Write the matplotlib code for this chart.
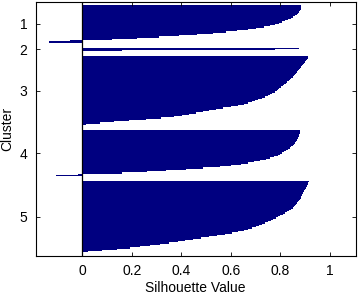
import numpy as np
import matplotlib.pyplot as plt

plt.rcParams['font.family'] = ['Liberation Sans', 'DejaVu Sans']

# silhouette values per cluster, sorted as in the figure (top to bottom)
clusters = ['1', '2', '3', '4', '5']
sil_1 = [0.885, 0.884, 0.883, 0.882, 0.880, 0.876, 0.872, 0.866, 0.860, 0.852,
         0.843, 0.832, 0.820, 0.808, 0.795, 0.778, 0.757, 0.733, 0.703, 0.668,
         0.625, 0.580, 0.530, 0.465, 0.390, 0.310, 0.220, 0.120, -0.050, -0.136]
sil_2 = [0.876, 0.780, 0.160]
sil_3 = [0.913, 0.911, 0.908, 0.905, 0.902, 0.898, 0.894, 0.890, 0.885, 0.880,
         0.875, 0.870, 0.866, 0.862, 0.859, 0.855, 0.850, 0.845, 0.840, 0.835,
         0.829, 0.822, 0.816, 0.810, 0.804, 0.797, 0.791, 0.785, 0.777, 0.768,
         0.759, 0.750, 0.738, 0.725, 0.712, 0.700, 0.685, 0.669, 0.653, 0.628,
         0.600, 0.570, 0.540, 0.513, 0.486, 0.459, 0.432, 0.405, 0.369, 0.320,
         0.259, 0.190, 0.128, 0.070, 0.015]
sil_4 = [0.880, 0.879, 0.878, 0.877, 0.876, 0.874, 0.871, 0.868, 0.866, 0.863,
         0.860, 0.856, 0.851, 0.845, 0.839, 0.832, 0.823, 0.815, 0.806, 0.798,
         0.790, 0.775, 0.759, 0.743, 0.720, 0.695, 0.670, 0.640, 0.600, 0.555,
         0.490, 0.420, 0.340, 0.260, 0.160, -0.016, -0.104]
sil_5 = [0.916, 0.914, 0.912, 0.910, 0.907, 0.904, 0.901, 0.897, 0.895, 0.892,
         0.890, 0.887, 0.885, 0.882, 0.879, 0.875, 0.871, 0.867, 0.863, 0.859,
         0.855, 0.850, 0.844, 0.836, 0.827, 0.818, 0.810, 0.801, 0.793, 0.783,
         0.772, 0.761, 0.750, 0.739, 0.728, 0.716, 0.703, 0.687, 0.670, 0.652,
         0.631, 0.605, 0.578, 0.545, 0.512, 0.480, 0.447, 0.415, 0.385, 0.350,
         0.313, 0.273, 0.233, 0.193, 0.140, 0.080, 0.025]
sil_values = [sil_1, sil_2, sil_3, sil_4, sil_5]

x_ticks = [0, 0.2, 0.4, 0.6, 0.8, 1]
x_tick_labels = ['0', '0.2', '0.4', '0.6', '0.8', '1']

gap = 4  # empty rows between clusters
bar_color = '#000080'

fig = plt.figure(figsize=(3.58, 2.94), dpi=100)
ax = fig.add_axes([0.0997, 0.1303, 0.8939, 0.8639])

pos = 0
centers = []
for vals in sil_values:
    y = pos + np.arange(len(vals)) + 0.5
    ax.barh(y, vals, height=1.0, color=bar_color, edgecolor='none',
            linewidth=0, antialiased=False)
    centers.append(y.mean())
    pos += len(vals) + gap

ax.axvline(0, color='black', linewidth=0.9)

ax.set_xlim(-0.188, 1.105)
ax.set_ylim(200.56, -2.64)
ax.set_xticks(x_ticks)
ax.set_xticklabels(x_tick_labels)
ax.set_yticks(centers)
ax.set_yticklabels(clusters)
ax.tick_params(direction='in', length=3, width=0.6, labelsize=10,
               top=True, right=True, pad=6)
for s in ax.spines.values():
    s.set_linewidth(0.8)

ax.set_xlabel('Silhouette Value', fontsize=10, labelpad=2)
ax.set_ylabel('Cluster', fontsize=10, labelpad=4)

fig.savefig('out.png', dpi=100)
